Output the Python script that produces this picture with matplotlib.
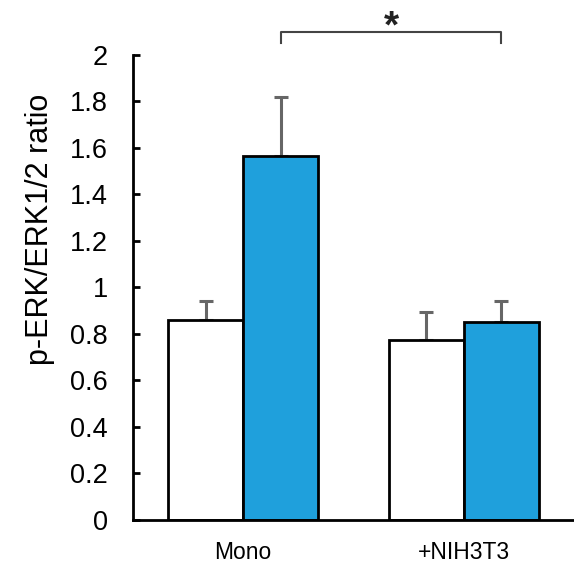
import matplotlib
matplotlib.use("Agg")
import matplotlib.pyplot as plt
import numpy as np

plt.rcParams["font.family"] = ["Liberation Sans", "DejaVu Sans"]

groups = ["Mono", "+NIH3T3"]
ctrl_vals = [0.86, 0.775]
ctrl_err = [0.08, 0.12]
treat_vals = [1.565, 0.85]
treat_err = [0.255, 0.09]
yticks = [0, 0.2, 0.4, 0.6, 0.8, 1, 1.2, 1.4, 1.6, 1.8, 2]
ytick_labels = ["0", "0.2", "0.4", "0.6", "0.8", "1", "1.2", "1.4", "1.6", "1.8", "2"]

BLUE = "#1fa0dc"
ERR = "#666666"
W = 0.34

fig = plt.figure(figsize=(5.74, 5.66), dpi=100)
ax = fig.add_axes([0.2317, 0.0813, 0.7683, 0.8216])

x = np.arange(len(groups))
ax.bar(x - W / 2, ctrl_vals, width=W, color="white", edgecolor="black",
       linewidth=2, zorder=2)
ax.bar(x + W / 2, treat_vals, width=W, color=BLUE, edgecolor="black",
       linewidth=2, zorder=2)
ax.errorbar(x - W / 2, ctrl_vals, yerr=[np.zeros(len(x)), ctrl_err], fmt="none",
            ecolor=ERR, elinewidth=2.2, capsize=5, capthick=2.2, zorder=1)
ax.errorbar(x + W / 2, treat_vals, yerr=[np.zeros(len(x)), treat_err], fmt="none",
            ecolor=ERR, elinewidth=2.2, capsize=5, capthick=2.2, zorder=1)

# significance bracket between the two blue bars
bx0, bx1 = x[0] + W / 2, x[1] + W / 2
ax.plot([bx0, bx0, bx1, bx1], [2.05, 2.1, 2.1, 2.05], color="#444444",
        lw=1.5, clip_on=False)
ax.text((bx0 + bx1) / 2, 2.075, "*", ha="center", va="baseline", fontsize=28,
        fontweight="bold", color="#222222")

ax.set_xlim(-0.5, 1.5)
ax.set_ylim(0, 2)
ax.set_yticks(yticks)
ax.set_yticklabels(ytick_labels, fontsize=19.5)
ax.set_xticks(x)
ax.set_xticklabels(groups, fontsize=16.5)
ax.tick_params(axis="x", length=0, pad=15)
ax.tick_params(axis="y", direction="in", length=5, width=2, pad=18)
ax.set_ylabel("p-ERK/ERK1/2 ratio", fontsize=22)
ax.yaxis.set_label_coords(-0.176, 0.624)

for s in ["top", "right"]:
    ax.spines[s].set_visible(False)
for s in ["left", "bottom"]:
    ax.spines[s].set_linewidth(2)

fig.savefig("out.png", dpi=100)
